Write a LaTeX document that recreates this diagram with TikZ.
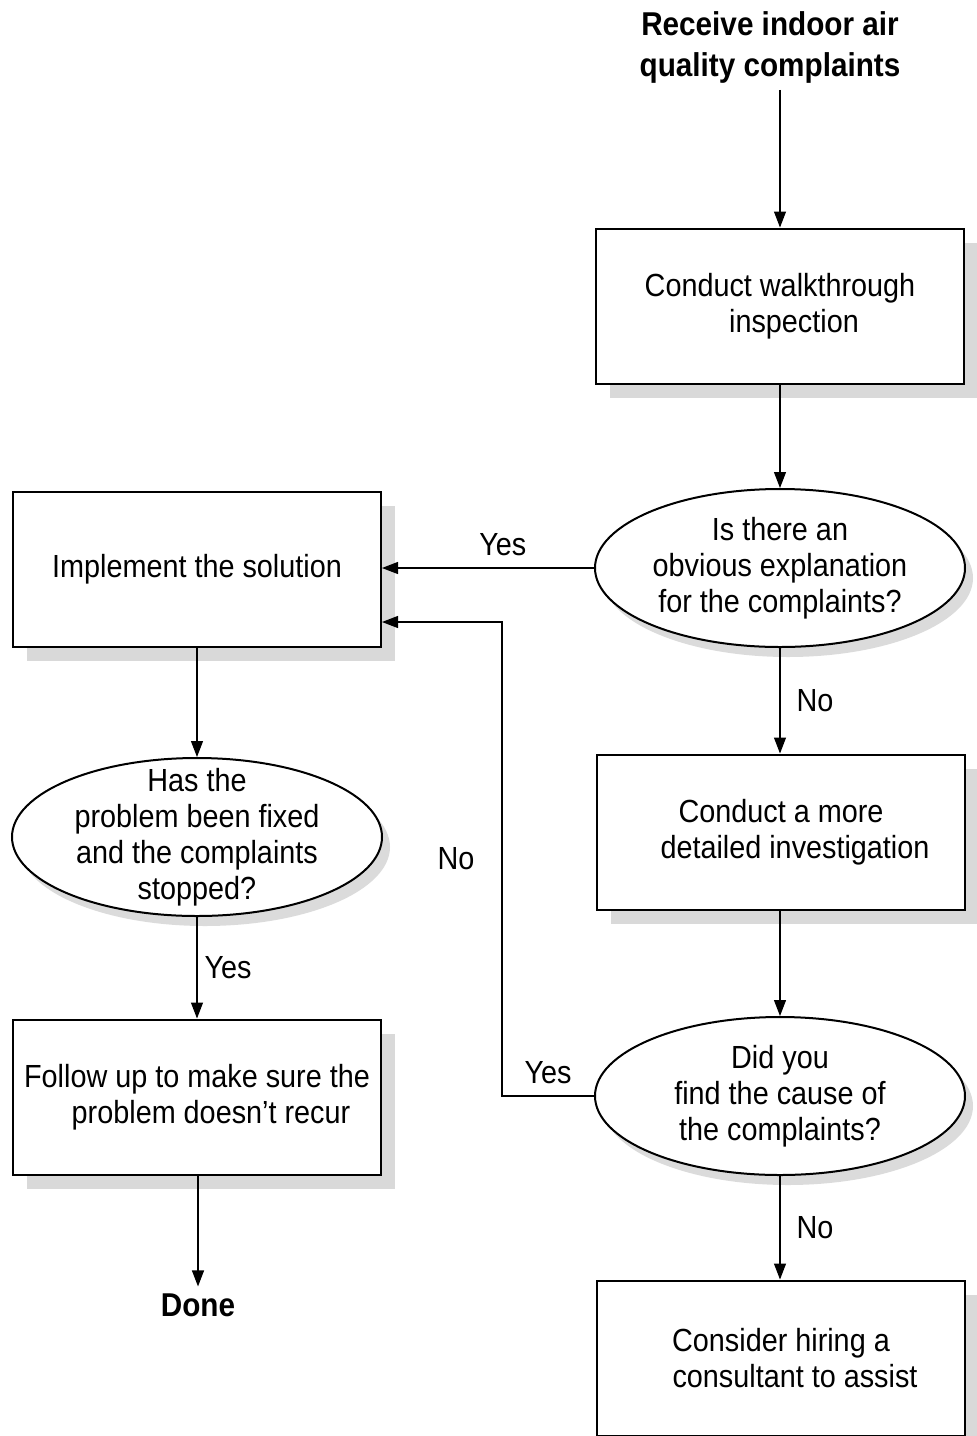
\documentclass[tikz,border=0pt]{standalone}
\usepackage{fontspec}
\setmainfont{Liberation Sans}[FakeStretch=0.9]
\usetikzlibrary{shapes.geometric,shadows,arrows.meta}
\definecolor{shadowgray}{RGB}{217,217,217}

\begin{document}
\begin{tikzpicture}
[x=0.5pt, y=-0.5pt,
 every node/.style={font=\fontsize{16}{18}\selectfont, align=center},
 stepbox/.style={draw, line width=1pt, fill=white, minimum width=184pt, minimum height=77.5pt, inner sep=0pt,
   drop shadow={shadow xshift=7pt, shadow yshift=-7pt, fill=shadowgray, opacity=1}},
 question/.style={ellipse, draw, line width=1pt, fill=white, minimum width=185pt, minimum height=79pt, inner sep=0pt,
   drop shadow={shadow xshift=4pt, shadow yshift=-5pt, fill=black!14, opacity=1}},
 endtext/.style={font=\bfseries\fontsize{16.5}{20.5}\selectfont},
 answer/.style={inner sep=2pt},
 flow/.style={line width=0.6pt, -{Triangle[length=8pt,width=6pt]}}]
\useasboundingbox (0,0) rectangle (977,1436);

% Right column
\node[endtext] (start) at (770,47) {Receive indoor air\\quality complaints};
\node[stepbox] (walk) at (780,306) {Conduct walkthrough\\\hspace*{14pt}inspection};
\node[question, label={[name=obvioustxt]center:{Is there an\\obvious explanation\\for the complaints?}}] (obvious) at (780,568) {};
\node[stepbox] (detail) at (781,832) {Conduct a more\\\hspace*{14pt}detailed investigation};
\node[question, label={[name=causetxt]center:{Did you\\find the cause of\\the complaints?}}] (cause) at (780,1096) {};
\node[stepbox] (consult) at (781,1358) {Consider hiring a\\\hspace*{14pt}consultant to assist};

% Left column
\node[stepbox] (implement) at (197,569) {Implement the solution};
\node[question, label={[name=fixedtxt]center:{Has the\\problem been fixed\\and the complaints\\stopped?}}] (fixed) at (197,837) {};
\node[stepbox] (followup) at (197,1097) {Follow up to make sure the\\\hspace*{14pt}problem doesn't recur};
\node[endtext] (done) at (198,1305) {Done};

\coordinate (back) at (502,622);

\draw[flow] (start.south -| walk) -- (walk.north -| obvious);
\draw[flow] (walk.south -| obvious) -- (obvious);
\draw[flow] (obvious.west) -- node[answer, above=4pt, pos=0.43] {Yes} (obvious.west -| implement.east);
\draw[flow] (obvious) -- node[answer, right=6pt] {No} (detail.north -| obvious);
\draw[flow] (detail.south -| cause) -- (cause);
\draw[flow] (cause.west) -- node[answer, above=4pt] {Yes} (cause.west -| back) -- node[answer, left=11.5pt] {No} (back) -- (implement.east |- back);
\draw[flow] (cause) -- node[answer, right=6pt] {No} (consult.north -| cause);
\draw[flow] (implement) -- (fixed);
\draw[flow] (fixed) -- node[answer, right=1.5pt] {Yes} (followup);
\draw[flow] (followup.south -| done) -- (done);
\end{tikzpicture}
\end{document}
